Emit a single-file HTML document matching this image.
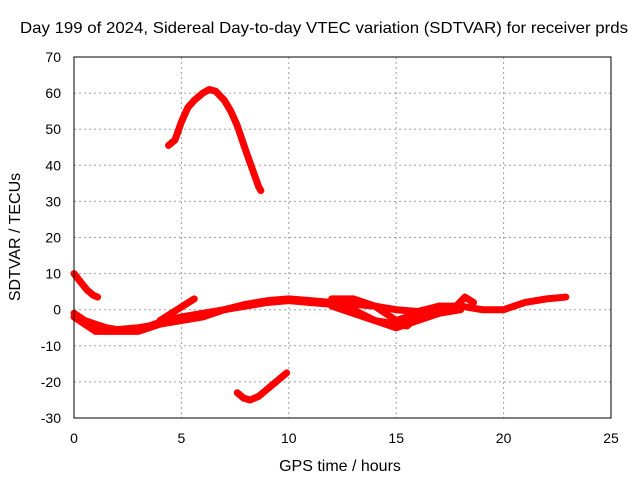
<!DOCTYPE html>
<html><head><meta charset="utf-8"><style>
body{margin:0;background:#fff;font-family:"Liberation Sans",sans-serif}
svg text{font-family:"Liberation Sans",sans-serif;font-size:14px;fill:#000}
</style></head><body>
<svg id="c" width="640" height="480">
<text x="20" y="33" textLength="608" lengthAdjust="spacingAndGlyphs" style="font-size:16px">Day 199 of 2024, Sidereal Day-to-day VTEC variation (SDTVAR) for receiver prds</text>
<text x="340" y="471" text-anchor="middle" style="font-size:16px">GPS time / hours</text>
<text transform="translate(20,237) rotate(-90)" text-anchor="middle" style="font-size:16px">SDTVAR / TECUs</text>
<g id="grid"></g><g id="marks"></g>
<rect x="74" y="57" width="537" height="361" fill="none" stroke="#000"/>
</svg>
<script>
const xTicks=[0,5,10,15,20,25];
const yTicks=[-30,-20,-10,0,10,20,30,40,50,60,70];
const arcHours=[4.4,4.7,5,5.3,5.6,6,6.3,6.6,7,7.3,7.6,8,8.3,8.6,8.7];
const arcValues=[45.5,47,52,56,58,60,61,60.5,58,55,51,44,39,34,33];
const startHours=[0,0.2,0.4,0.6,0.9,1.1];
const startValues=[10,8.5,7,5.5,4,3.5];
const lowHours=[7.6,7.9,8.2,8.6,9,9.4,9.9];
const lowValues=[-23,-24.5,-25,-24,-22,-20,-17.5];
const bandHours=[0,0.5,1,1.5,2,3,3.5,4,5,6,7,8,9,10,11,12,13,14,15,16,17,18,19,20,21,22,22.9];
const bandValues=[-1,-3,-4,-5,-5.5,-5,-4.5,-3.5,-2,-1,0,1,2,2.5,2,1.5,1.5,1,0,-0.5,1,1,0,0,2,3,3.5];
const band2Hours=[0,1,2,3,4,5,6,7,8,9,10,11,12,13,14,15,16,17,18];
const band2Values=[-2,-6,-6,-6,-4,-3,-2,0,1.5,2.5,3,2.5,2,0,-3,-5,-3,-1,0];
const band3Hours=[12,13,14,15,16,17];
const band3Values=[3,3,1,-3,-1,1];
const band4Hours=[12,13,14,15,15.5,16];
const band4Values=[1,-1,-3,-4,-4.5,-2];
const spikeHours=[4,4.8,5.6];
const spikeValues=[-3,0,3];
const humpHours=[17.8,18.2,18.6];
const humpValues=[1,3.5,2];
const X=h=>74+h*537/25, Y=v=>57+(70-v)*361/100;
const NS="http://www.w3.org/2000/svg";
const g=document.getElementById('grid'), m=document.getElementById('marks');
function mk(t,a,p){const e=document.createElementNS(NS,t);for(const k in a)e.setAttribute(k,a[k]);p.appendChild(e);return e;}
xTicks.forEach(t=>{
 if(t>0&&t<25){const l=mk('line',{x1:X(t),x2:X(t),y1:57,y2:418,stroke:'#a0a0a0','stroke-dasharray':'2,3'},g);
 
 }
 const tx=mk('text',{x:X(t),y:443,'text-anchor':'middle'},g);tx.textContent=t;
 
 
});
yTicks.forEach(t=>{
 if(t>-30&&t<70){const l=mk('line',{x1:74,x2:611,y1:Y(t),y2:Y(t),stroke:'#a0a0a0','stroke-dasharray':'2,3'},g);
 
 }
 const tx=mk('text',{x:61,y:Y(t)+5,'text-anchor':'end'},g);tx.textContent=t;
 
 
});
const series=[[arcHours,arcValues],[startHours,startValues],[lowHours,lowValues],[bandHours,bandValues],[band2Hours,band2Values],[band3Hours,band3Values],[band4Hours,band4Values],[spikeHours,spikeValues],[humpHours,humpValues]];
series.forEach(([hs,vs])=>{
 const pts=hs.map((h,i)=>X(h)+','+Y(vs[i])).join(' ');
 const p=mk('polyline',{points:pts,fill:'none',stroke:'#ff0000','stroke-width':7,'stroke-linejoin':'round','stroke-linecap':'round'},m);
 
 
});
</script>
</body></html>
